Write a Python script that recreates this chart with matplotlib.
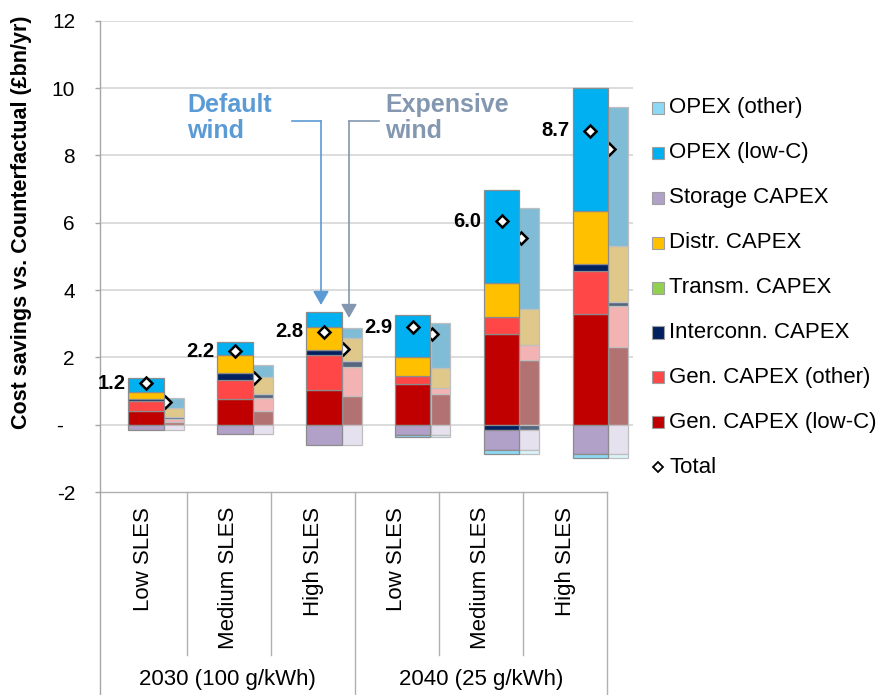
import matplotlib
matplotlib.use("Agg")
import matplotlib.pyplot as plt
from matplotlib.patches import Rectangle, FancyArrowPatch
from matplotlib.lines import Line2D
from matplotlib.transforms import ScaledTranslation

plt.rcParams['font.family'] = ['Liberation Sans', 'DejaVu Sans']

# ---------------- data ----------------
categories = ["Low SLES", "Medium SLES", "High SLES", "Low SLES", "Medium SLES", "High SLES"]
years = ["2030 (100 g/kWh)", "2040 (25 g/kWh)"]

series_names = ["Gen. CAPEX (low-C)", "Gen. CAPEX (other)", "Transm. CAPEX",
                "Interconn. CAPEX", "Distr. CAPEX", "Storage CAPEX",
                "OPEX (low-C)", "OPEX (other)"]

# Default wind
def_gen_lowc = [0.40, 0.76, 1.02, 1.22, 2.70, 3.28]
def_gen_other = [0.30, 0.57, 1.04, 0.23, 0.50, 1.27]
def_transm = [0.0, 0.0, 0.0, 0.0, 0.0, 0.0]
def_intercon = [0.05, 0.20, 0.17, 0.0, -0.17, 0.23]
def_distr = [0.23, 0.55, 0.67, 0.57, 1.00, 1.56]
def_storage = [-0.15, -0.27, -0.60, -0.30, -0.58, -0.86]
def_opex_lowc = [0.40, 0.38, 0.45, 1.24, 2.76, 3.66]
def_opex_other = [0.0, 0.0, 0.0, -0.07, -0.12, -0.12]
def_total = [1.23, 2.18, 2.76, 2.89, 6.04, 8.73]

# Expensive wind
exp_gen_lowc = [0.08, 0.40, 0.84, 0.90, 1.92, 2.32]
exp_gen_other = [0.10, 0.38, 0.86, 0.18, 0.45, 1.21]
exp_transm = [0.0, 0.0, 0.0, 0.0, 0.0, 0.0]
exp_intercon = [0.06, 0.14, 0.19, 0.0, -0.17, 0.11]
exp_distr = [0.25, 0.50, 0.68, 0.60, 1.07, 1.66]
exp_storage = [-0.15, -0.27, -0.60, -0.30, -0.58, -0.86]
exp_opex_lowc = [0.31, 0.35, 0.30, 1.34, 3.01, 4.13]
exp_opex_other = [0.0, 0.0, 0.0, -0.07, -0.12, -0.14]
exp_total = [0.67, 1.38, 2.26, 2.68, 5.54, 8.19]

def_colors = ["#C00000", "#FF4747", "#92D050", "#002060", "#FFC000", "#B1A0C7", "#00B0F0", "#8DD9F5"]
exp_colors = ["#B27272", "#F3B3B3", "#C8E6A8", "#56667F", "#DFC88A", "#E6E1EE", "#80BCD6", "#D8F3FA"]

def_data = [def_gen_lowc, def_gen_other, def_transm, def_intercon, def_distr,
            def_storage, def_opex_lowc, def_opex_other]
exp_data = [exp_gen_lowc, exp_gen_other, exp_transm, exp_intercon, exp_distr,
            exp_storage, exp_opex_lowc, exp_opex_other]

# ---------------- figure ----------------
W, H = 886, 695
fig = plt.figure(figsize=(W / 100, H / 100), dpi=100)


def fx(px):
    return px / W


def fy(py):
    return 1 - py / H


ax_left, ax_right, ax_top, ax_bot = 100, 633, 20.7, 492
ax = fig.add_axes([fx(ax_left), fy(ax_bot), fx(ax_right) - fx(ax_left), fy(ax_top) - fy(ax_bot)])
ax.set_xlim(-0.5, 5.5)
ax.set_ylim(-2, 12)

for s in ["top", "right", "bottom"]:
    ax.spines[s].set_visible(False)
ax.spines["left"].set_color("#A6A6A6")
ax.spines["left"].set_linewidth(1.0)

ax.set_xticks([])
yt = list(range(-2, 13, 2))
ax.set_yticks(yt)
ax.set_yticklabels(["-" if v == 0 else str(v) for v in yt])
ax.tick_params(axis="y", length=3.6, width=1.0, color="#A6A6A6", pad=14.4, labelsize=15,
               labelcolor="#000000")
for lab in ax.get_yticklabels():
    if lab.get_text() == "-":
        lab.set_transform(lab.get_transform() + ScaledTranslation(-0.12, 0, fig.dpi_scale_trans))

for v in range(0, 13, 2):
    ax.axhline(v, color="#D9D9D9", lw=1.3, zorder=0)

n = len(categories)
def_w, exp_w = 0.40, 0.225
def_off, exp_off = 0.02, 0.333


def draw_stack(data, colors, offset, width, ec, z):
    pos = [0.0] * n
    neg = [0.0] * n
    for vals, col in zip(data, colors):
        for i, v in enumerate(vals):
            if v == 0:
                continue
            if v > 0:
                b = pos[i]
                pos[i] += v
            else:
                b = neg[i]
                neg[i] += v
            ax.bar(i + offset, v, width=width, bottom=b, color=col, edgecolor=ec,
                   linewidth=0.9, zorder=z)


draw_stack(exp_data, exp_colors, exp_off, exp_w, "#BFBFBF", 2)
ax.plot([i + 0.235 for i in range(n)], exp_total, linestyle="none", marker="D",
        markersize=5.8, markerfacecolor="white", markeredgecolor="black",
        markeredgewidth=1.8, zorder=3)
draw_stack(def_data, def_colors, def_off, def_w, "#8C8C8C", 4)
ax.plot([i + def_off for i in range(n)], def_total, linestyle="none", marker="D",
        markersize=5.8, markerfacecolor="white", markeredgecolor="black",
        markeredgewidth=1.8, zorder=5)

for i, t in enumerate(def_total):
    ax.annotate(f"{t:.1f}", xy=(i + def_off - def_w / 2, t), xytext=(-2, 0),
                textcoords="offset points", ha="right", va="center",
                fontsize=14.5, fontweight="bold", zorder=6)

# y label
fig.text(fx(22), fy(222), "Cost savings vs. Counterfactual (£bn/yr)", rotation=90,
         ha="center", va="center", fontsize=15.5, fontweight="bold")

# ---------------- category table ----------------
gc = "#B0B0B0"
fig.add_artist(Line2D([fx(100), fx(607)], [fy(492), fy(492)], color=gc, lw=1.0))
fig.add_artist(Line2D([fx(100), fx(100)], [fy(492), fy(695)], color="#A6A6A6", lw=1.0))
div_x = [100, 187, 271, 355, 439, 523, 607]
for k, x in enumerate(div_x):
    if k == 0:
        continue
    bottom = 695 if k in (3, 6) else 655
    fig.add_artist(Line2D([fx(x), fx(x)], [fy(492), fy(bottom)], color=gc, lw=1.0))
for k, cat in enumerate(categories):
    cx = (div_x[k] + div_x[k + 1]) / 2
    fig.text(fx(cx), fy(507), cat, rotation=90, ha="center", va="top", fontsize=16)
for k, yr in enumerate(years):
    cx = (div_x[3 * k] + div_x[3 * k + 3]) / 2
    fig.text(fx(cx), fy(680), yr, ha="center", va="center", fontsize=16)

# ---------------- annotations ----------------
c_def = "#5B9BD5"
c_exp = "#8497B0"
fig.text(fx(187), fy(118), "Default\nwind", ha="left", va="center", fontsize=18,
         fontweight="bold", color=c_def, linespacing=1.15)
fig.text(fx(385), fy(118), "Expensive\nwind", ha="left", va="center", fontsize=18,
         fontweight="bold", color=c_exp, linespacing=1.15)

fig.add_artist(Line2D([fx(292), fx(321)], [fy(121), fy(121)], color=c_def, lw=1.2))
fig.add_artist(FancyArrowPatch((fx(321), fy(121)), (fx(321), fy(305)), transform=fig.transFigure,
                               arrowstyle="-|>,head_length=0.7,head_width=0.4",
                               mutation_scale=12, color=c_def, lw=1.2,
                               shrinkA=0, shrinkB=0))
fig.add_artist(Line2D([fx(379), fx(349)], [fy(121), fy(121)], color=c_exp, lw=1.2))
fig.add_artist(FancyArrowPatch((fx(349), fy(121)), (fx(349), fy(318)), transform=fig.transFigure,
                               arrowstyle="-|>,head_length=0.7,head_width=0.4",
                               mutation_scale=12, color=c_exp, lw=1.2,
                               shrinkA=0, shrinkB=0))

# ---------------- legend ----------------
leg_order = [7, 6, 5, 4, 2, 3, 1, 0]
leg_y0, leg_dy = 108, 44.9
for j, k in enumerate(leg_order):
    y = leg_y0 + j * leg_dy
    fig.add_artist(Rectangle((fx(652), fy(y + 6)), fx(12), 12 / H, transform=fig.transFigure,
                             facecolor=def_colors[k], edgecolor="#A0A0A0", lw=0.8))
    fig.text(fx(669), fy(y), series_names[k], ha="left", va="center", fontsize=16)
y = leg_y0 + 8 * leg_dy
fig.add_artist(Line2D([fx(658)], [fy(y)], marker="D", markersize=4.8, markerfacecolor="white",
                      markeredgecolor="black", markeredgewidth=1.3, linestyle="none"))
fig.text(fx(669), fy(y), "Total", ha="left", va="center", fontsize=16)

fig.savefig("out.png", dpi=100)
